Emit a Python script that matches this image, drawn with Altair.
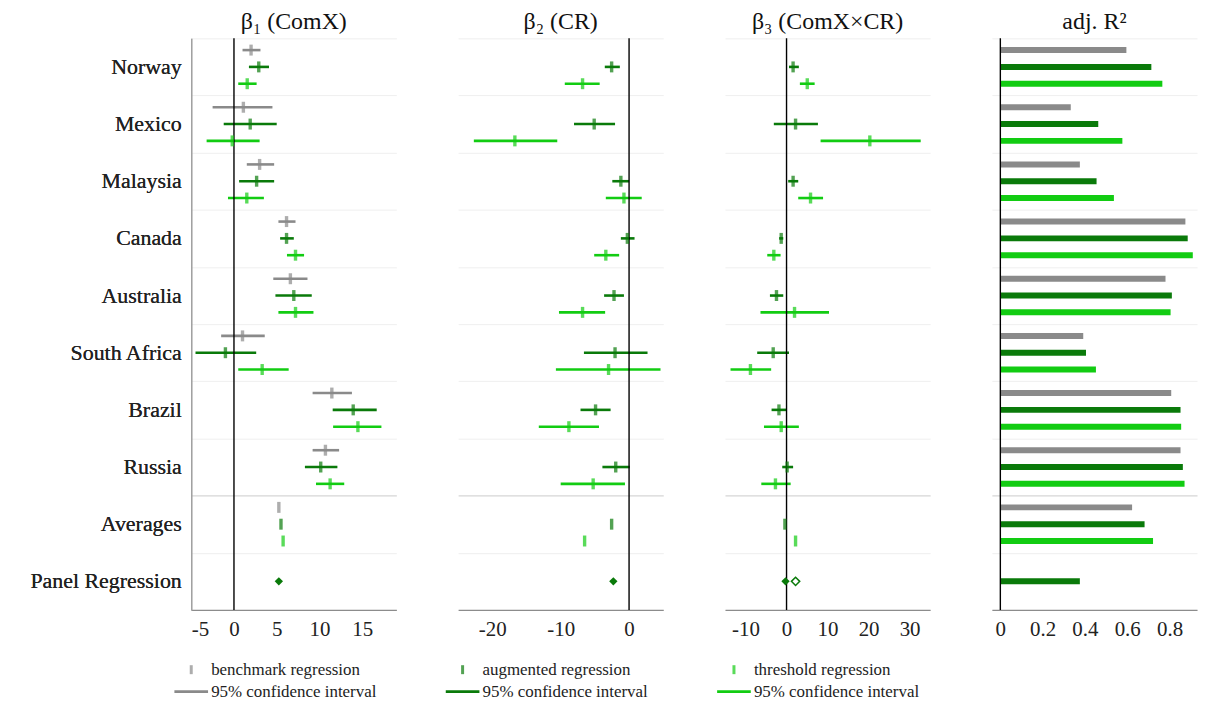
import altair as alt
import pandas as pd

SERIF = "Liberation Serif"

countries = ["Norway", "Mexico", "Malaysia", "Canada", "Australia",
             "South Africa", "Brazil", "Russia", "Averages", "Panel Regression"]
series_names = ["benchmark regression", "augmented regression", "threshold regression"]
series_colors = ["#8a8a8a", "#0a7a0a", "#12cc12"]
ci_label = "95% confidence interval"

# beta_1 (ComX): estimates and 95% CI bounds (None = not shown)
b1_bench = [2.0, 1.1, 3.0, 6.15, 6.6, 1.0, 11.45, 10.7, 5.25, None]
b1_bench_lo = [1.0, -2.5, 1.5, 5.2, 4.6, -1.5, 9.2, 9.2, None, None]
b1_bench_hi = [3.1, 4.5, 4.7, 7.2, 8.6, 3.6, 13.8, 12.3, None, None]
b1_aug = [2.9, 1.9, 2.65, 6.15, 7.0, -1.0, 13.95, 10.15, 5.5, 5.25]
b1_aug_lo = [1.75, -1.2, 0.6, 5.4, 4.85, -4.5, 11.55, 8.3, None, None]
b1_aug_hi = [4.1, 5.0, 4.7, 7.0, 9.1, 2.6, 16.7, 12.1, None, None]
b1_thr = [1.55, -0.2, 1.5, 7.2, 7.2, 3.3, 14.5, 11.25, 5.75, None]
b1_thr_lo = [0.5, -3.2, -0.7, 6.2, 5.2, 0.5, 11.6, 9.6, None, None]
b1_thr_hi = [2.65, 3.0, 3.5, 8.2, 9.3, 6.4, 17.25, 12.9, None, None]

# beta_2 (CR)
b2_aug = [-2.55, -5.1, -1.2, -0.25, -2.2, -2.05, -4.9, -1.95, -2.55, -2.3]
b2_aug_lo = [-3.55, -8.05, -2.45, -1.2, -3.65, -6.6, -7.1, -3.9, None, None]
b2_aug_hi = [-1.35, -2.05, 0.0, 0.8, -0.75, 2.7, -2.7, 0.1, None, None]
b2_thr = [-6.8, -16.7, -0.75, -3.4, -6.8, -3.0, -8.8, -5.25, -6.5, None]
b2_thr_lo = [-9.4, -22.7, -3.4, -5.1, -10.25, -10.7, -13.2, -10.0, None, None]
b2_thr_hi = [-4.3, -10.5, 1.85, -1.45, -3.5, 4.6, -4.4, -0.6, None, None]

# beta_3 (ComX x CR)
b3_aug = [1.6, 2.2, 1.6, -1.3, -2.45, -3.25, -1.85, 0.15, -0.4, -0.25]
b3_aug_lo = [0.6, -3.1, 0.4, -1.8, -4.05, -7.15, -3.65, -1.05, None, None]
b3_aug_hi = [3.0, 7.65, 2.85, -0.8, -0.8, 0.6, 0.0, 1.6, None, None]
b3_thr = [5.05, 20.3, 5.85, -3.1, 1.95, -8.8, -1.3, -2.7, 2.2, None]
b3_thr_lo = [3.25, 8.3, 2.85, -4.7, -6.35, -13.65, -5.5, -6.15, None, None]
b3_thr_hi = [6.85, 32.7, 8.9, -1.45, 10.35, -3.75, 3.0, 1.0, None, None]
b3_panel_open = [2.2]

# adjusted R^2
r2_bench = [0.596, 0.333, 0.376, 0.875, 0.781, 0.392, 0.808, 0.852, 0.623, None]
r2_aug = [0.714, 0.463, 0.455, 0.886, 0.811, 0.405, 0.852, 0.863, 0.682, 0.376]
r2_thr = [0.766, 0.577, 0.537, 0.91, 0.805, 0.452, 0.855, 0.871, 0.722, None]


def long_frame(parts):
    recs = []
    for sname, est, lo, hi in parts:
        for i, c in enumerate(countries):
            if est[i] is None:
                continue
            recs.append({"country": c, "series": sname, "est": est[i],
                         "lo": lo[i] if lo else None, "hi": hi[i] if hi else None,
                         "kind": "panel" if c == "Panel Regression" else "country"})
    return pd.DataFrame(recs)


grid_color = {"condition": {"test": "datum.value === 'Russia'", "value": "#cbcbcb"},
              "value": "#efefef"}

Y_SCALE = alt.Scale(domain=countries, paddingInner=0, paddingOuter=0)
YO = alt.YOffset("series:N", scale=alt.Scale(domain=series_names, paddingInner=0, paddingOuter=0.2))
COLOR = alt.Color("series:N", scale=alt.Scale(domain=series_names, range=series_colors), legend=None)

LABEL_AXIS = alt.Axis(title=None, orient="left", labelFontSize=22, labelFont=SERIF, labelColor="#222",
                      labelPadding=10, ticks=False, domain=True, domainColor="#a0a0a0",
                      domainWidth=1.2, grid=False, minExtent=179, maxExtent=179, labelLimit=0)
GRID_AXIS_R = alt.Axis(title=None, orient="right", labels=False, ticks=False, domain=False, grid=True,
                       gridColor=grid_color, tickBand="extent")
GRID_AXIS_L = alt.Axis(title=None, labels=False, ticks=False, domain=False, grid=True,
                       gridColor=grid_color, tickBand="extent")


def x_axis(vals):
    return alt.Axis(title=None, values=vals, ticks=False, domainColor="#8c8c8c", domainWidth=1.2,
                    labelFontSize=21, labelFont=SERIF, labelColor="#222", labelPadding=9,
                    grid=False,
                    labelExpr="datum.value < 0 ? '-' + format(-datum.value, '~g') : format(datum.value, '~g')")


def panel(df, dom, vals, title, show_y, bars=False, extra=None):
    xs = alt.Scale(domain=dom, nice=False, zero=False)
    xa = x_axis(vals)
    if show_y:
        Y = alt.Y("country:N", scale=Y_SCALE, axis=LABEL_AXIS, title=None)
        YG = alt.Y("country:N", scale=Y_SCALE, axis=GRID_AXIS_R, title=None)
    else:
        Y = alt.Y("country:N", scale=Y_SCALE, axis=GRID_AXIS_L, title=None)
        YG = Y
    layers = []
    zero = alt.Chart(pd.DataFrame({"zero": [0]})).mark_rule(color="black", strokeWidth=1.4).encode(
        x=alt.X("zero:Q", scale=xs, axis=xa, title=None))
    if bars:
        layers.append(alt.Chart(df).mark_bar(size=6).encode(
            x=alt.X("est:Q", scale=xs, axis=xa, title=None), x2=alt.datum(0),
            y=Y, yOffset=YO, color=COLOR))
        layers.append(zero)
    else:
        ci = df.dropna(subset=["lo", "hi"])
        layers.append(alt.Chart(ci).mark_rule(strokeWidth=2.6).encode(
            x=alt.X("lo:Q", scale=xs, axis=xa, title=None), x2="hi:Q",
            y=YG, yOffset=YO, color=COLOR))
        layers.append(zero)
        pts = df[df["kind"] == "country"]
        layers.append(alt.Chart(pts).mark_tick(thickness=3.4, size=11).encode(
            x=alt.X("est:Q", scale=xs, axis=xa, title=None), y=Y, yOffset=YO, color=COLOR))
        dia = df[df["kind"] == "panel"]
        layers.append(alt.Chart(dia).mark_point(shape="diamond", filled=True, size=70, opacity=1).encode(
            x=alt.X("est:Q", scale=xs, axis=xa, title=None), y=Y, yOffset=YO, color=COLOR))
        if extra is not None:
            layers.append(alt.Chart(extra).mark_point(shape="diamond", filled=False, size=70,
                                                      strokeWidth=1.5, color="#0a7a0a", opacity=1).encode(
                x=alt.X("est:Q", scale=xs, axis=xa, title=None), y=Y, yOffset=YO))
    return alt.layer(*layers).properties(
        width=206, height=574,
        title=alt.TitleParams(title, font=SERIF, fontSize=24, fontWeight="normal",
                              color="#111", offset=4))


df1 = long_frame([(series_names[0], b1_bench, b1_bench_lo, b1_bench_hi),
                  (series_names[1], b1_aug, b1_aug_lo, b1_aug_hi),
                  (series_names[2], b1_thr, b1_thr_lo, b1_thr_hi)])
df2 = long_frame([(series_names[1], b2_aug, b2_aug_lo, b2_aug_hi),
                  (series_names[2], b2_thr, b2_thr_lo, b2_thr_hi)])
df3 = long_frame([(series_names[1], b3_aug, b3_aug_lo, b3_aug_hi),
                  (series_names[2], b3_thr, b3_thr_lo, b3_thr_hi)])
df4 = long_frame([(series_names[0], r2_bench, None, None),
                  (series_names[1], r2_aug, None, None),
                  (series_names[2], r2_thr, None, None)])
open_df = pd.DataFrame({"country": ["Panel Regression"], "series": [series_names[1]],
                        "est": b3_panel_open})

p1 = panel(df1, [-5, 19], [-5, 0, 5, 10, 15], "β₁ (ComX)", True)
p2 = panel(df2, [-25, 5], [-20, -10, 0], "β₂ (CR)", False)
p3 = panel(df3, [-15, 35], [-10, 0, 10, 20, 30], "β₃ (ComX×CR)", False, extra=open_df)
p4 = panel(df4, [-0.04, 0.93], [0, 0.2, 0.4, 0.6, 0.8], "adj. R²", False, bars=True)

row = alt.hconcat(p1, p2, p3, p4, spacing=62)

# custom legend below the panels
leg_df = pd.DataFrame({"col": [0, 1, 2], "series": series_names,
                       "top_label": series_names, "bottom_label": [ci_label] * 3})
LX = alt.Scale(domain=[0, 2], range=[0, 545])
leg_marker = alt.Chart(leg_df).mark_tick(orient="vertical", thickness=3, size=9).encode(
    x=alt.X("col:Q", scale=LX, axis=None), y=alt.value(10), color=COLOR)
leg_line = alt.Chart(leg_df).transform_calculate(
    a="datum.col - 0.062", b="datum.col + 0.062").mark_rule(strokeWidth=2.6).encode(
    x=alt.X("a:Q", scale=LX, axis=None), x2="b:Q", y=alt.value(32), color=COLOR)
leg_t1 = alt.Chart(leg_df).mark_text(align="left", baseline="middle", dx=20, fontSize=17,
                                     font=SERIF, color="#222").encode(
    x=alt.X("col:Q", scale=LX, axis=None), y=alt.value(10), text="top_label:N")
leg_t2 = alt.Chart(leg_df).mark_text(align="left", baseline="middle", dx=20, fontSize=17,
                                     font=SERIF, color="#222").encode(
    x=alt.X("col:Q", scale=LX, axis=None), y=alt.value(32), text="bottom_label:N")
legend = alt.layer(leg_marker, leg_line, leg_t1, leg_t2).properties(width=800, height=40)

chart = alt.vconcat(row, legend, spacing=20).properties(
    padding={"left": 5, "top": 0, "right": 5, "bottom": 0}
).configure(font=SERIF, background="white").configure_view(
    stroke=None
).configure_text(font=SERIF)

chart.save("out.html", embed_options={"renderer": "svg", "actions": False})
